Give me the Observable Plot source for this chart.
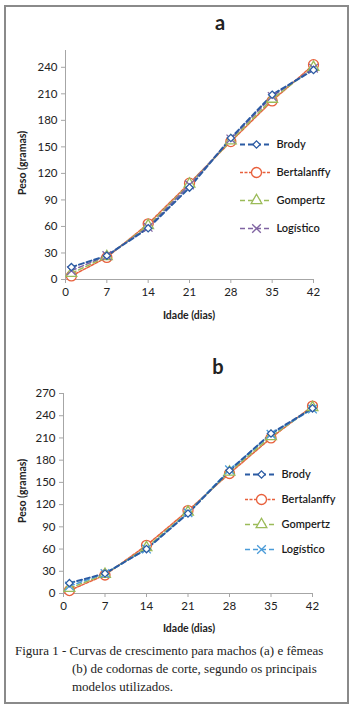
<!DOCTYPE html>
<html><head><meta charset="utf-8">
<script src="https://cdn.jsdelivr.net/npm/d3@7"></script>
<script src="https://cdn.jsdelivr.net/npm/@observablehq/plot@0.6"></script>
<style>
body{margin:0;background:#fff;}
#page{position:relative;width:353px;height:708px;overflow:hidden;font-family:Lato,"Open Sans",sans-serif;color:#222;background:#fff;}
.abs{position:absolute;}
.border{left:4px;top:5px;width:345px;height:699px;box-sizing:border-box;border:2px solid #8a8a8a;}
.ptitle{font-weight:700;font-size:20px;line-height:24px;width:40px;text-align:center;}
.xlab{font-weight:700;font-size:10.5px;line-height:14px;white-space:nowrap;transform:translate(-50%,-50%);}
.ylab{font-weight:700;font-size:10.5px;line-height:14px;white-space:nowrap;transform:translate(-50%,-50%) rotate(-90deg);}
.cap{font-family:"Liberation Serif","Times New Roman",serif;font-size:13px;line-height:18px;color:#222;white-space:nowrap;}
</style></head><body><div id="page"><div class="abs border"></div></div>
<script>
// ---------- data ----------
const days = [1, 7, 14, 21, 28, 35, 42];
const seriesNames = ["Brody", "Bertalanffy", "Gompertz", "Logístico"];
// Panel a (machos)
const brodyA       = [14, 27, 58, 104, 160, 209, 237];
const bertalanffyA = [4, 25, 63, 109, 156, 202, 243];
const gompertzA    = [7, 26, 61, 108, 157, 204, 240];
const logisticoA   = [10, 27, 59, 107, 159, 207, 239];
// Panel b (fêmeas)
const brodyB       = [14, 27, 60, 108, 166, 216, 250];
const bertalanffyB = [4, 25, 65, 112, 162, 210, 253];
const gompertzB    = [7, 26, 62, 110, 164, 212, 251];
const logisticoB   = [10, 27, 60, 109, 167, 215, 249];
const xTicks = [0, 7, 14, 21, 28, 35, 42];
const yTicksA = [0, 30, 60, 90, 120, 150, 180, 210, 240];
const yTicksB = [0, 30, 60, 90, 120, 150, 180, 210, 240, 270];
const panelTitles = ["a", "b"];
const xLabel = "Idade (dias)";
const yLabel = "Peso (gramas)";
const captionLines = [
  "Figura 1 - Curvas de crescimento para machos (a) e fêmeas",
  "(b) de codornas de corte, segundo os principais",
  "modelos utilizados."
];

// ---------- styles ----------
const baseStyle = {
  "Brody":       {color: "#2B5BA3", symbol: "diamond2", r: 3.3, dash: "5,3", width: 2, fill: "white"},
  "Bertalanffy": {color: "#E8603C", symbol: "circle",   r: 5,   dash: "3,1.5", width: 1.5, fill: "white"},
  "Gompertz":    {color: "#9BBB59", symbol: "triangle", r: 4,   dash: "5,3", width: 1.5, fill: "white"},
  "Logístico":   {color: "#8064A2", symbol: "times",    r: 4,   dash: "5,3", width: 1.5, fill: "none"}
};
const drawOrder = ["Bertalanffy", "Gompertz", "Logístico", "Brody"];

function table(cols) {
  const rows = [];
  seriesNames.forEach((s, i) => days.forEach((d, j) => rows.push({series: s, day: d, w: cols[i][j]})));
  return rows;
}

function styleFor(logColor) {
  const st = JSON.parse(JSON.stringify(baseStyle));
  st["Logístico"].color = logColor;
  return st;
}

function panelPlot(rows, yMax, yTicks, st, g) {
  const marks = [
    Plot.ruleY([0], {stroke: "#a6a6a6"}),
    Plot.ruleX([0], {stroke: "#a6a6a6"}),
    Plot.axisX({ticks: xTicks, tickSize: 4, tickPadding: 4, stroke: "#a6a6a6", fill: "#222", label: null}),
    Plot.axisY({ticks: yTicks, tickSize: 4, tickPadding: 4, stroke: "#a6a6a6", fill: "#222", label: null})
  ];
  for (const s of drawOrder) {
    const d = rows.filter(r => r.series === s);
    marks.push(Plot.line(d, {x: "day", y: "w", stroke: st[s].color, strokeWidth: st[s].width, strokeDasharray: st[s].dash}));
  }
  for (const s of drawOrder) {
    const d = rows.filter(r => r.series === s);
    marks.push(Plot.dot(d, {x: "day", y: "w", symbol: st[s].symbol, r: st[s].r, stroke: st[s].color, fill: st[s].fill, strokeWidth: 1.3}));
  }
  return Plot.plot({
    width: g.width, height: g.height,
    marginLeft: g.ml, marginRight: g.mr, marginTop: g.mt, marginBottom: g.mb,
    x: {domain: [0, 42], axis: null},
    y: {domain: [0, yMax], axis: null},
    style: {fontFamily: "Lato, 'Open Sans', sans-serif", fontSize: "11.5px", color: "#222", background: "transparent"},
    marks
  });
}

function legendPlot(st, spacing, width) {
  const h = spacing * seriesNames.length;
  return Plot.plot({
    width, height: h, margin: 0,
    x: {domain: [0, width], axis: null},
    y: {type: "point", domain: seriesNames, padding: 0.5, axis: null},
    style: {fontFamily: "Lato, 'Open Sans', sans-serif", fontSize: "11px", color: "#222", background: "transparent"},
    marks: [
      ...seriesNames.map(s => Plot.ruleY([s], {x1: 0, x2: 31, stroke: st[s].color, strokeWidth: st[s].width, strokeDasharray: st[s].dash})),
      ...seriesNames.map(s => Plot.dot([s], {y: d => d, x: 16, symbol: st[s].symbol, r: st[s].r, stroke: st[s].color, fill: st[s].fill, strokeWidth: 1.3})),
      Plot.text(seriesNames, {y: d => d, x: 36, text: d => d, textAnchor: "start", fill: "#1a1a1a", fontWeight: 600})
    ]
  });
}

const page = document.getElementById("page");
function place(el, left, top) {
  el.style.position = "absolute"; el.style.left = left + "px"; el.style.top = top + "px";
  page.appendChild(el);
  return el;
}
function div(cls, text, left, top) {
  const e = document.createElement("div");
  e.className = "abs " + cls; e.textContent = text;
  e.style.left = left + "px"; e.style.top = top + "px";
  page.appendChild(e);
  return e;
}

// Panel a
const stA = styleFor("#8064A2");
place(panelPlot(table([brodyA, bertalanffyA, gompertzA, logisticoA]), 259, yTicksA, stA,
  {width: 353, height: 320, ml: 65, mr: 40, mt: 50, mb: 41}), 0, 0);
place(legendPlot(stA, 28.5, 105), 240, 129);
div("ptitle", panelTitles[0], 200, 10);
div("ylab", yLabel, 22, 163);
div("xlab", xLabel, 189, 315);

// Panel b
const stB = styleFor("#4A9BD8");
place(panelPlot(table([brodyB, bertalanffyB, gompertzB, logisticoB]), 270, yTicksB, stB,
  {width: 353, height: 280, ml: 63, mr: 41, mt: 43, mb: 37}), 0, 350);
place(legendPlot(stB, 25.7, 105), 245, 460);
div("ptitle", panelTitles[1], 198, 354);
div("ylab", yLabel, 22, 491);
div("xlab", xLabel, 189, 628);

// Caption
div("cap", captionLines[0], 15, 642);
div("cap", captionLines[1], 72, 660);
div("cap", captionLines[2], 72, 678);
</script></body></html>
